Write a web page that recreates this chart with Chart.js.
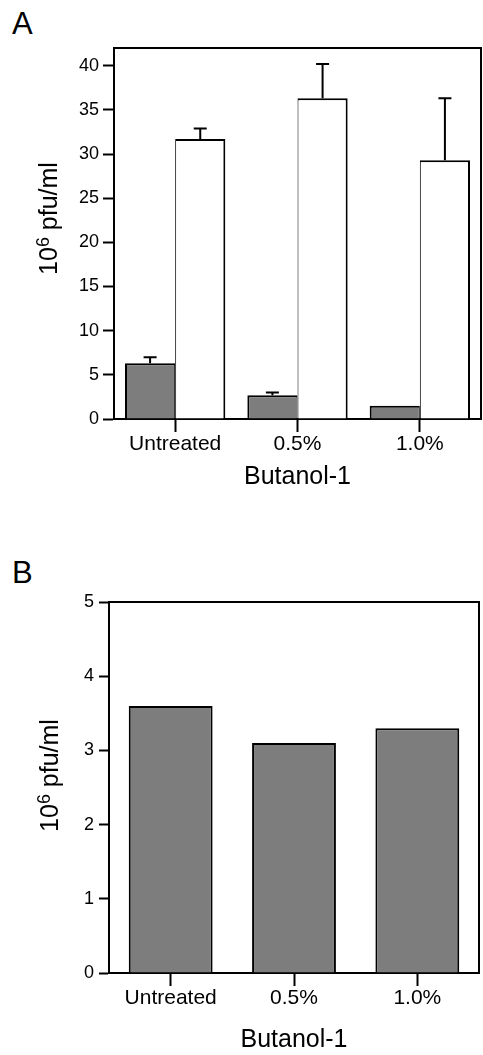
<!DOCTYPE html>
<html>
<head>
<meta charset="utf-8">
<script src="https://cdn.jsdelivr.net/npm/chart.js@4"></script>
<style>
  body { margin: 0; background: #fff; width: 483px; height: 1055px; position: relative; overflow: hidden; font-family: "Liberation Sans", Arial, sans-serif; }
  .panel-label { position: absolute; left: 12px; font-size: 31px; color: #000; line-height: 34px; }
  .wrap { position: absolute; left: 0; }
</style>
</head>
<body>
<div class="panel-label" style="top:7px">A</div>
<div class="panel-label" style="top:556px">B</div>
<div class="wrap" style="top:0"><canvas id="chart-panel-A" width="483" height="520"></canvas></div>
<div class="wrap" style="top:540px"><canvas id="chart-panel-B" width="483" height="515"></canvas></div>
<script>
const categories = ['Untreated', '0.5%', '1.0%'];

// panel A: grey and white bars with upper error bars
const greyA = [6.3, 2.7, 1.5];
const greyAErr = [0.7, 0.3, 0];
const whiteA = [31.7, 36.3, 29.3];
const whiteAErr = [1.2, 3.9, 7.0];
const ticksA = [0, 5, 10, 15, 20, 25, 30, 35, 40];

// panel B
const greyB = [3.6, 3.1, 3.3];
const ticksB = [0, 1, 2, 3, 4, 5];

const xTitle = 'Butanol-1';
const FAMILY = '"Liberation Sans", Arial, sans-serif';
const GREY = '#7d7d7d';

Chart.defaults.font.family = FAMILY;
Chart.defaults.color = '#000';

// top and right sides of the box
const frame = {
  id: 'frame',
  afterDraw(chart) {
    const {ctx, chartArea: a} = chart;
    ctx.save();
    ctx.strokeStyle = '#000';
    ctx.lineWidth = 2;
    ctx.beginPath();
    ctx.moveTo(a.left, a.top);
    ctx.lineTo(a.right, a.top);
    ctx.lineTo(a.right, a.bottom);
    ctx.stroke();
    ctx.restore();
  }
};

// error bars (upper only), values come from dataset.errors
const errorBars = {
  id: 'errorBars',
  afterDatasetsDraw(chart) {
    const {ctx} = chart;
    const y = chart.scales.y;
    ctx.save();
    ctx.strokeStyle = '#000';
    ctx.lineWidth = 2;
    chart.data.datasets.forEach((ds, i) => {
      if (!ds.errors) return;
      chart.getDatasetMeta(i).data.forEach((bar, j) => {
        const err = ds.errors[j];
        if (!err) return;
        const top = y.getPixelForValue(ds.data[j] + err);
        ctx.beginPath();
        ctx.moveTo(bar.x, bar.y);
        ctx.lineTo(bar.x, top);
        ctx.moveTo(bar.x - 6.5, top);
        ctx.lineTo(bar.x + 6.5, top);
        ctx.stroke();
      });
    });
    ctx.restore();
  }
};

// y title with a real superscript: 10^6 pfu/ml
const yTitle = {
  id: 'yTitle',
  afterDraw(chart, args, opts) {
    const {ctx, chartArea: a} = chart;
    const big = '25px ' + FAMILY, small = '18px ' + FAMILY;
    ctx.save();
    ctx.font = big;
    const w1 = ctx.measureText('10').width;
    const w3 = ctx.measureText(' pfu/ml').width;
    ctx.font = small;
    const w2 = ctx.measureText('6').width;
    const total = w1 + w2 + w3;
    ctx.translate(opts.x, (a.top + a.bottom) / 2 - opts.shift);
    ctx.rotate(-Math.PI / 2);
    ctx.fillStyle = '#000';
    ctx.textBaseline = 'alphabetic';
    let x = -total / 2;
    ctx.font = big;
    ctx.fillText('10', x, 0);
    x += w1;
    ctx.font = small;
    ctx.fillText('6', x, -8);
    x += w2;
    ctx.font = big;
    ctx.fillText(' pfu/ml', x, 0);
    ctx.restore();
  }
};

const yAxis = (min, max, ticks, width, tickLen, pad, size) => ({
  min: min,
  max: max,
  afterBuildTicks: s => { s.ticks = ticks.map(v => ({value: v})); },
  afterFit: s => { s.width = width; },
  border: {color: '#000', width: 2},
  grid: {drawOnChartArea: false, tickLength: tickLen, tickWidth: 2, tickColor: '#000'},
  ticks: {color: '#000', padding: pad, font: {size: size}}
});

const xAxis = (height) => ({
  offset: true,
  afterFit: s => { s.height = height; },
  border: {color: '#000', width: 2},
  grid: {offset: false, drawOnChartArea: false, tickLength: 13, tickWidth: 2, tickColor: '#000'},
  ticks: {color: '#000', padding: 0, font: {size: 21}},
  title: {display: true, text: xTitle, color: '#000', font: {size: 25}, padding: 0}
});

new Chart(document.getElementById('chart-panel-A'), {
  type: 'bar',
  data: {
    labels: categories,
    datasets: [
      {
        label: 'grey',
        data: greyA,
        errors: greyAErr,
        backgroundColor: GREY,
        borderColor: '#000',
        borderWidth: {top: 2, left: 2, right: 1, bottom: 0},
        categoryPercentage: 0.82,
        barPercentage: 1
      },
      {
        label: 'white',
        data: whiteA,
        errors: whiteAErr,
        backgroundColor: '#fff',
        borderColor: '#000',
        borderWidth: {top: 2, left: 1, right: 2, bottom: 0},
        categoryPercentage: 0.82,
        barPercentage: 1
      }
    ]
  },
  options: {
    responsive: false,
    animation: false,
    devicePixelRatio: 1,
    layout: {padding: {top: 48, right: 2, bottom: 28, left: 0}},
    plugins: {legend: {display: false}, tooltip: {enabled: false}, yTitle: {x: 57, shift: 15}},
    scales: {
      x: xAxis(73),
      y: yAxis(0, 42, ticksA, 114, 11, 4, 18)
    }
  },
  plugins: [frame, errorBars, yTitle]
});

new Chart(document.getElementById('chart-panel-B'), {
  type: 'bar',
  data: {
    labels: categories,
    datasets: [
      {
        label: 'grey',
        data: greyB,
        backgroundColor: GREY,
        borderColor: '#000',
        borderWidth: {top: 2, left: 2, right: 2, bottom: 0},
        categoryPercentage: 0.68,
        barPercentage: 1
      }
    ]
  },
  options: {
    responsive: false,
    animation: false,
    devicePixelRatio: 1,
    layout: {padding: {top: 62, right: 4, bottom: 0, left: 0}},
    plugins: {legend: {display: false}, tooltip: {enabled: false}, yTitle: {x: 58, shift: 12}},
    scales: {
      x: xAxis(82),
      y: yAxis(0, 5, ticksB, 109, 10, 5, 18)
    }
  },
  plugins: [frame, yTitle]
});
</script>
</body>
</html>
